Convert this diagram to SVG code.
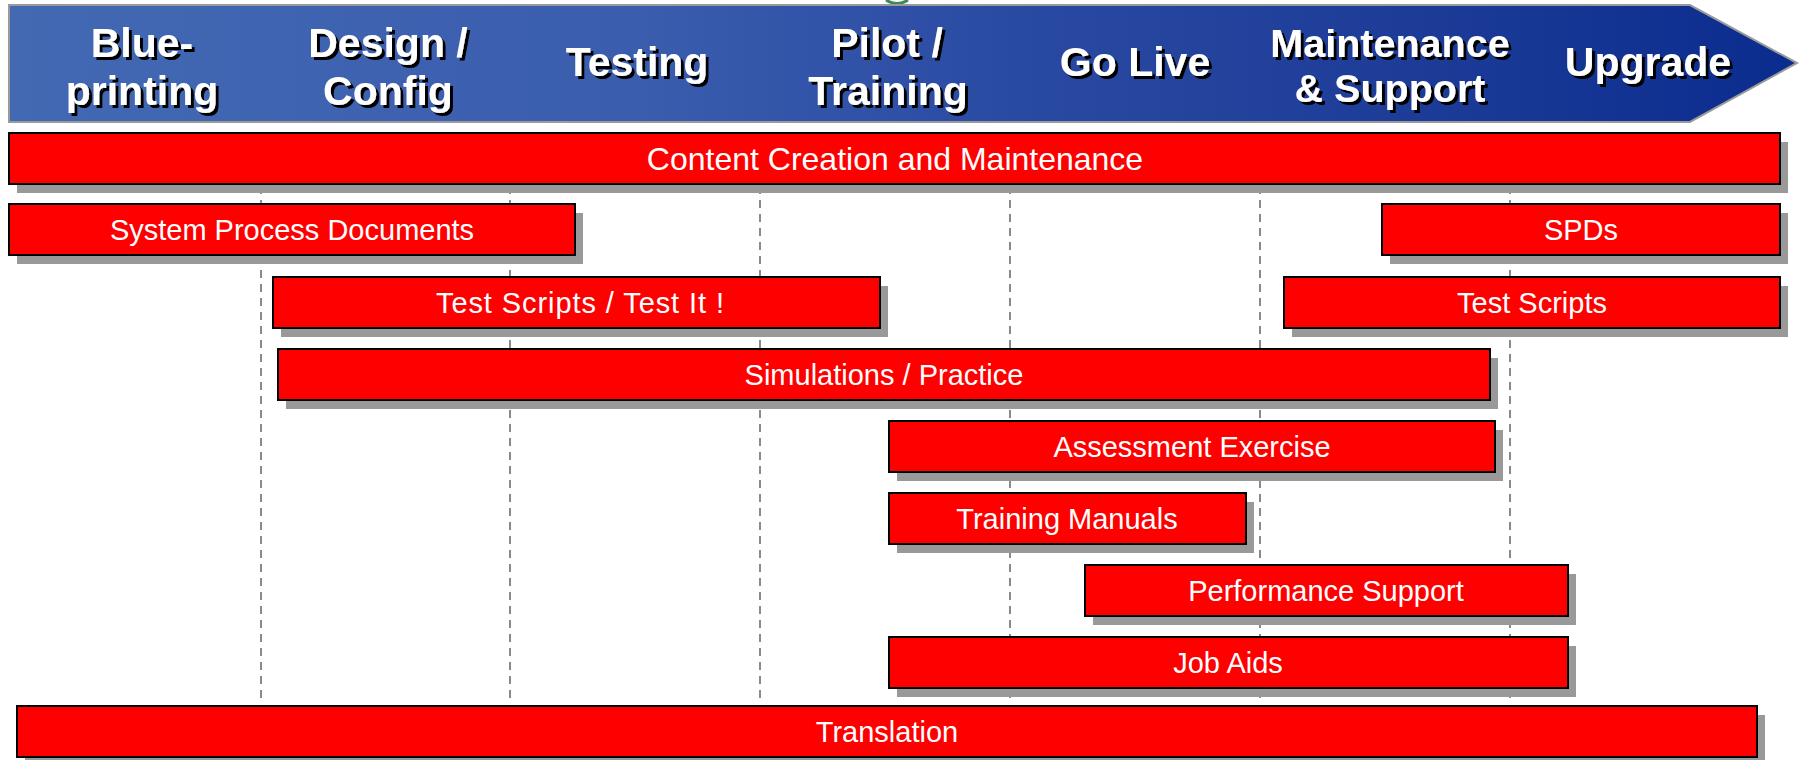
<svg xmlns="http://www.w3.org/2000/svg" width="1801" height="760" viewBox="0 0 1801 760">
<defs>
<linearGradient id="hdr" x1="0" y1="0" x2="1" y2="0">
<stop offset="0" stop-color="#4369B3"/>
<stop offset="0.35" stop-color="#3A5DAE"/>
<stop offset="0.6" stop-color="#2747A0"/>
<stop offset="0.8" stop-color="#1C3B97"/>
<stop offset="1" stop-color="#0A2C8E"/>
</linearGradient>
<filter id="tshadow" x="-10%" y="-20%" width="120%" height="150%">
<feDropShadow dx="3" dy="3" stdDeviation="0.4" flood-color="#000" flood-opacity="1"/>
</filter>
<style>
.sh{fill:#999999}
.bar{fill:#FF0000;stroke:#000;stroke-width:2}
.bt{font-family:"Liberation Sans",Arial,sans-serif;font-size:29px;fill:#fff;text-anchor:middle}
.ht{font-family:"Liberation Sans",Arial,sans-serif;font-size:41px;font-weight:bold;text-anchor:middle;fill:#fff;filter:url(#tshadow)}
.dash{stroke:#8a8a8a;stroke-width:2;stroke-dasharray:8 6;fill:none}
</style>
</defs>
<rect width="1801" height="760" fill="#fff"/>
<path d="M886 0 Q897 7 908 0" fill="none" stroke="#3E8A52" stroke-width="3"/>
<g id="header">
<path d="M9 5 H1690 L1797 63 L1690 122 H9 Z" fill="url(#hdr)" stroke="#9a9a9a" stroke-width="2"/>
<text class="ht" x="142" y="57">Blue-</text>
<text class="ht" x="142" y="105">printing</text>
<text class="ht" x="388" y="57">Design /</text>
<text class="ht" x="388" y="105">Config</text>
<text class="ht" x="637" y="76">Testing</text>
<text class="ht" x="887" y="57">Pilot /</text>
<text class="ht" x="888" y="105">Training</text>
<text class="ht" x="1135" y="76">Go Live</text>
<text class="ht" x="1390" y="57" style="font-size:39.5px">Maintenance</text>
<text class="ht" x="1390" y="102" style="font-size:39.5px">&amp; Support</text>
<text class="ht" x="1648" y="76">Upgrade</text>
</g>
<g id="gridlines">
<line class="dash" x1="261" y1="186" x2="261" y2="702"/>
<line class="dash" x1="510" y1="186" x2="510" y2="702"/>
<line class="dash" x1="760" y1="186" x2="760" y2="702"/>
<line class="dash" x1="1010" y1="186" x2="1010" y2="702"/>
<line class="dash" x1="1260" y1="186" x2="1260" y2="702"/>
<line class="dash" x1="1510" y1="186" x2="1510" y2="702"/>
</g>
<g id="content-creation">
<rect class="sh" x="17" y="142" width="1771" height="51"/>
<rect class="bar" x="9" y="133" width="1771" height="51"/>
<text class="bt" x="895" y="170" style="font-size:32px">Content Creation and Maintenance</text>
</g>
<g id="spd-left">
<rect class="sh" x="17" y="213" width="566" height="51"/>
<rect class="bar" x="9" y="204" width="566" height="51"/>
<text class="bt" x="292" y="240">System Process Documents</text>
</g>
<g id="spd-right">
<rect class="sh" x="1390" y="213" width="398" height="51"/>
<rect class="bar" x="1382" y="204" width="398" height="51"/>
<text class="bt" x="1581" y="240">SPDs</text>
</g>
<g id="test-scripts-left">
<rect class="sh" x="281" y="286" width="607" height="51"/>
<rect class="bar" x="273" y="277" width="607" height="51"/>
<text class="bt" x="580" y="313" textLength="288" lengthAdjust="spacing">Test Scripts / Test It !</text>
</g>
<g id="test-scripts-right">
<rect class="sh" x="1292" y="286" width="496" height="51"/>
<rect class="bar" x="1284" y="277" width="496" height="51"/>
<text class="bt" x="1532" y="313">Test Scripts</text>
</g>
<g id="simulations">
<rect class="sh" x="286" y="358" width="1212" height="51"/>
<rect class="bar" x="278" y="349" width="1212" height="51"/>
<text class="bt" x="884" y="385">Simulations / Practice</text>
</g>
<g id="assessment">
<rect class="sh" x="897" y="430" width="606" height="51"/>
<rect class="bar" x="889" y="421" width="606" height="51"/>
<text class="bt" x="1192" y="457">Assessment Exercise</text>
</g>
<g id="training-manuals">
<rect class="sh" x="897" y="502" width="357" height="51"/>
<rect class="bar" x="889" y="493" width="357" height="51"/>
<text class="bt" x="1067" y="529">Training Manuals</text>
</g>
<g id="performance-support">
<rect class="sh" x="1093" y="574" width="483" height="51"/>
<rect class="bar" x="1085" y="565" width="483" height="51"/>
<text class="bt" x="1326" y="601">Performance Support</text>
</g>
<g id="job-aids">
<rect class="sh" x="897" y="646" width="679" height="51"/>
<rect class="bar" x="889" y="637" width="679" height="51"/>
<text class="bt" x="1228" y="673">Job Aids</text>
</g>
<g id="translation">
<rect class="sh" x="25" y="715" width="1740" height="51"/>
<rect class="bar" x="17" y="706" width="1740" height="51"/>
<text class="bt" x="887" y="742">Translation</text>
</g>
</svg>
